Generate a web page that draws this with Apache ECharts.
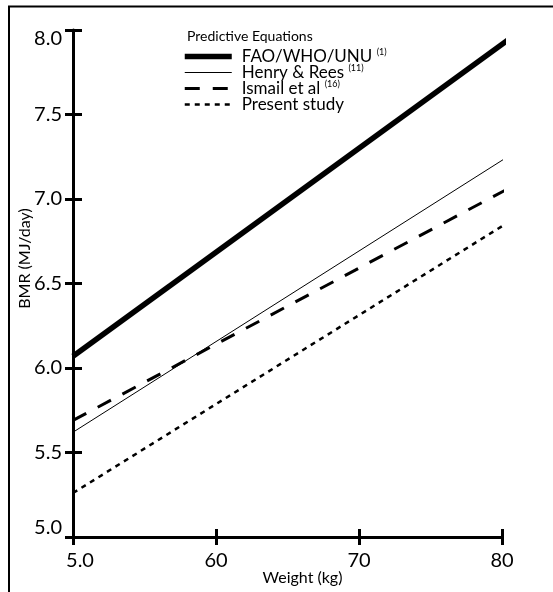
<!DOCTYPE html>
<html>
<head>
<meta charset="utf-8">
<script src="https://cdn.jsdelivr.net/npm/echarts@6/dist/echarts.min.js"></script>
<style>
  html, body { margin: 0; padding: 0; background: #fff; }
  #bmr-chart { width: 553px; height: 592px; }
</style>
</head>
<body>
<div id="bmr-chart"></div>
<script>
// weight (kg) at both ends of each predictive line
const weights = [50, 80.4];
const faoWhoUnu = [6.07, 7.94];
const henryRees = [5.62, 7.25];
const ismail = [5.69, 7.06];
const presentStudy = [5.26, 6.86];

const seriesNames = ['FAO/WHO/UNU', 'Henry & Rees', 'Ismail et al', 'Present study'];
const seriesRefs = ['(1)', '(11)', '(16)', ''];

const xTicks = [50, 60, 70, 80];
const xTickLabels = ['5.0', '60', '70', '80'];
const yTickLabels = ['5.0', '5.5', '6.0', '6.5', '7.0', '7.5', '8.0'];

const font = 'Lato';

const pairs = (ys) => weights.map((w, i) => [w, ys[i]]);

const chart = echarts.init(document.getElementById('bmr-chart'));

const option = {
  animation: false,
  textStyle: { fontFamily: font, color: '#000' },
  grid: { left: 73, right: 51, top: 30, bottom: 55, outerBoundsMode: 'none', containLabel: false },
  title: {
    text: 'Predictive Equations',
    left: 187,
    top: 29,
    padding: 0,
    textStyle: { fontFamily: font, fontSize: 14, fontWeight: 'normal', color: '#000' }
  },
  legend: {
    orient: 'vertical',
    left: 182,
    top: 48,
    padding: 0,
    itemWidth: 47,
    itemHeight: 14,
    itemGap: -1,
    data: seriesNames,
    itemStyle: { opacity: 0 },
    lineStyle: { width: 'inherit', type: 'inherit' },
    formatter: (name) => {
      const ref = seriesRefs[seriesNames.indexOf(name)];
      return ref ? `{n|${name} }{s|${ref}}` : `{n|${name}}`;
    },
    textStyle: {
      padding: [0, 0, 0, 5],
      rich: {
        n: { fontFamily: font, fontSize: 17, lineHeight: 17, color: '#000' },
        s: { fontFamily: font, fontSize: 9, lineHeight: 9, verticalAlign: 'top', color: '#000' }
      }
    }
  },
  xAxis: [
    {
      type: 'value',
      min: 50, max: 80, interval: 10,
      name: 'Weight (kg)',
      nameLocation: 'middle',
      nameGap: 33,
      nameMoveOverlap: false,
      nameTextStyle: { fontFamily: font, fontSize: 16, color: '#000', padding: [0, 0, 0, 30] },
      axisLine: { show: true, lineStyle: { color: '#000', width: 3 } },
      axisTick: { show: true, length: 8, lineStyle: { color: '#000', width: 3 } },
      axisLabel: {
        margin: 14,
        fontFamily: font, fontSize: 20, color: '#000',
        formatter: (v) => {
          const label = xTickLabels[xTicks.indexOf(v)];
          return v === 50 ? `{first|${label}}` : label;
        },
        rich: { first: { fontFamily: font, fontSize: 20, color: '#000', padding: [0, 0, 0, 14] } }
      },
      splitLine: { show: false }
    },
    {
      type: 'value',
      position: 'bottom',
      min: 50, max: 80, interval: 10,
      axisLine: { show: false },
      axisTick: { show: true, inside: true, length: 8, lineStyle: { color: '#000', width: 3 } },
      axisLabel: { show: false },
      splitLine: { show: false }
    }
  ],
  yAxis: [
    {
      type: 'value',
      min: 5, max: 8, interval: 0.5,
      name: 'BMR (MJ/day)',
      nameLocation: 'middle',
      nameGap: 40,
      nameMoveOverlap: false,
      nameTextStyle: { fontFamily: font, fontSize: 16, color: '#000', padding: [0, 0, 0, 50] },
      axisLine: { show: true, lineStyle: { color: '#000', width: 3 } },
      axisTick: { show: true, length: 8, lineStyle: { color: '#000', width: 3 } },
      axisLabel: {
        margin: 11,
        fontFamily: font, fontSize: 20, color: '#000',
        formatter: (v) => {
          const label = yTickLabels[Math.round((v - 5) * 2)];
          if (v === 5) return `{low|${label}}`;
          if (v === 8) return `{high|${label}}`;
          return label;
        },
        rich: {
          low: { fontFamily: font, fontSize: 20, color: '#000', padding: [0, 0, 18, 0] },
          high: { fontFamily: font, fontSize: 20, color: '#000', padding: [18, 0, 0, 0] }
        }
      },
      splitLine: { show: false }
    },
    {
      type: 'value',
      position: 'left',
      min: 5, max: 8, interval: 0.5,
      axisLine: { show: false },
      axisTick: { show: true, inside: true, length: 9, lineStyle: { color: '#000', width: 3 } },
      axisLabel: { show: false },
      splitLine: { show: false }
    }
  ],
  series: [
    {
      name: seriesNames[0], type: 'line', symbol: 'none', clip: false,
      data: pairs(faoWhoUnu),
      lineStyle: { color: '#000', width: 5.5, type: 'solid' },
      itemStyle: { color: '#000' }
    },
    {
      name: seriesNames[1], type: 'line', symbol: 'none', clip: false,
      data: pairs(henryRees),
      lineStyle: { color: '#000', width: 1, type: 'solid' },
      itemStyle: { color: '#000' }
    },
    {
      name: seriesNames[2], type: 'line', symbol: 'none', clip: false,
      data: pairs(ismail),
      lineStyle: { color: '#000', width: 3, type: [15, 13] },
      itemStyle: { color: '#000' }
    },
    {
      name: seriesNames[3], type: 'line', symbol: 'none', clip: false,
      data: pairs(presentStudy),
      lineStyle: { color: '#000', width: 2.5, type: [5, 5] },
      itemStyle: { color: '#000' }
    }
  ],
  graphic: [
    {
      type: 'polyline',
      silent: true,
      shape: { points: [[9, 600], [9, 6.5], [600, 6.5]] },
      style: { stroke: '#000', lineWidth: 2, fill: null }
    }
  ]
};

chart.setOption(option);
</script>
</body>
</html>
